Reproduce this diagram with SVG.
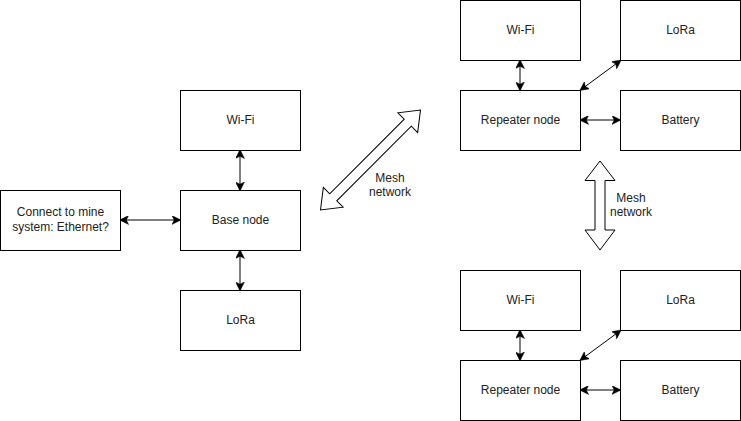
<svg xmlns="http://www.w3.org/2000/svg" width="741" height="421" viewBox="0 0 741 421">
<style>
.box{fill:#fff;stroke:#000;stroke-width:1}
.lbl{font-family:"Liberation Sans",Arial,sans-serif;font-size:12px;fill:#222;text-anchor:middle;dominant-baseline:central}
.con{stroke:#000;stroke-width:1;fill:none;marker-start:url(#ah);marker-end:url(#ah)}
.big{fill:#fff;stroke:#000;stroke-width:1;stroke-linejoin:miter}
</style>
<defs>
<marker id="ah" viewBox="0 0 10 10" refX="9" refY="5" markerWidth="9" markerHeight="9" markerUnits="userSpaceOnUse" orient="auto-start-reverse">
<path d="M0,0 L10,5 L0,10 L2.5,5 Z" fill="#000" stroke="#000" stroke-width="0.5"/>
</marker>
</defs>
<rect width="741" height="421" fill="#fff"/>
<g id="connectors">
<line class="con" x1="120.5" y1="220" x2="180" y2="220"/>
<line class="con" x1="240" y1="150.5" x2="240" y2="190"/>
<line class="con" x1="240" y1="250.5" x2="240" y2="290"/>
<line class="con" x1="520" y1="60.5" x2="520" y2="90"/>
<line class="con" x1="580.5" y1="90" x2="620.5" y2="60.5"/>
<line class="con" x1="580.5" y1="120" x2="620" y2="120"/>
<line class="con" x1="520" y1="330.5" x2="520" y2="360"/>
<line class="con" x1="580.5" y1="360" x2="620.5" y2="330.5"/>
<line class="con" x1="580.5" y1="390" x2="620" y2="390"/>
<polygon class="big" transform="translate(370.5,160) rotate(-45)" points="-70.7,0 -52.7,-14 -52.7,-5 52.7,-5 52.7,-14 70.7,0 52.7,14 52.7,5 -52.7,5 -52.7,14"/>
<polygon class="big" points="600,161 615,180.5 605,180.5 605,230 615,230 600,250 585,230 595,230 595,180.5 585,180.5"/>
<text class="lbl" x="390" y="178">Mesh</text>
<text class="lbl" x="390" y="192">network</text>
<text class="lbl" x="631" y="198">Mesh</text>
<text class="lbl" x="631" y="212">network</text>
</g>
<g id="connect-mine">
<rect class="box" x="0.5" y="190.5" width="120" height="60"/>
<text class="lbl" x="60.5" y="212">Connect to mine</text>
<text class="lbl" x="60.5" y="227">system: Ethernet?</text>
</g>
<g id="base-wifi"><rect class="box" x="180.5" y="90.5" width="120" height="60"/><text class="lbl" x="240.5" y="119.5">Wi-Fi</text></g>
<g id="base-node"><rect class="box" x="180.5" y="190.5" width="120" height="60"/><text class="lbl" x="240.5" y="219.5">Base node</text></g>
<g id="base-lora"><rect class="box" x="180.5" y="290.5" width="120" height="60"/><text class="lbl" x="240.5" y="319.5">LoRa</text></g>
<g id="top-wifi"><rect class="box" x="460.5" y="0.5" width="120" height="60"/><text class="lbl" x="520.5" y="29.5">Wi-Fi</text></g>
<g id="top-lora"><rect class="box" x="620.5" y="0.5" width="120" height="60"/><text class="lbl" x="680.5" y="29.5">LoRa</text></g>
<g id="top-repeater"><rect class="box" x="460.5" y="90.5" width="120" height="60"/><text class="lbl" x="520.5" y="119.5">Repeater node</text></g>
<g id="top-battery"><rect class="box" x="620.5" y="90.5" width="120" height="60"/><text class="lbl" x="680.5" y="119.5">Battery</text></g>
<g id="bottom-wifi"><rect class="box" x="460.5" y="270.5" width="120" height="60"/><text class="lbl" x="520.5" y="299.5">Wi-Fi</text></g>
<g id="bottom-lora"><rect class="box" x="620.5" y="270.5" width="120" height="60"/><text class="lbl" x="680.5" y="299.5">LoRa</text></g>
<g id="bottom-repeater"><rect class="box" x="460.5" y="360.5" width="120" height="60"/><text class="lbl" x="520.5" y="389.5">Repeater node</text></g>
<g id="bottom-battery"><rect class="box" x="620.5" y="360.5" width="120" height="60"/><text class="lbl" x="680.5" y="389.5">Battery</text></g>
</svg>
